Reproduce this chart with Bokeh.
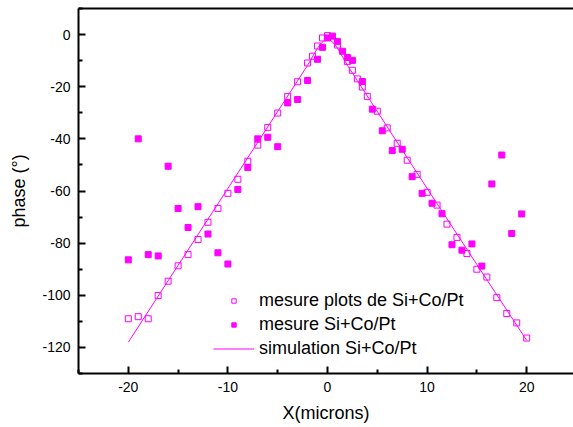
from bokeh.plotting import figure
from bokeh.models import Range1d, FixedTicker, Legend, LegendItem, LinearAxis
from bokeh.embed import file_html
from bokeh.resources import INLINE

# hollow squares: "mesure plots de Si+Co/Pt"
plots_x = [-20, -19, -18, -17, -16, -15, -14, -13, -12, -11, -10, -9, -8, -7, -6, -5, -4, -3,
           -2, -1.5, -1, -0.5, 0, 1, 2, 2.5, 3, 3.5, 4, 5, 6, 7, 8, 9, 10, 11, 12, 13, 14, 15,
           16, 17, 18, 19, 20]
plots_y = [-109, -108.2, -109, -100.1, -94.6, -88.7, -84.4, -78.6, -72, -66.7, -60.9, -55.5,
           -48.6, -42.4, -35.6, -30.1, -23.7, -18.1, -10.9, -8.3, -4.4, -1.3, -0.4, -4, -10.3,
           -13.7, -17, -20.1, -23.7, -29.4, -35.8, -41.7, -48.2, -53.6, -60.5, -65.4, -72.7,
           -77.8, -84, -90, -93, -100.9, -107, -110.6, -116.4]

# filled squares: "mesure Si+Co/Pt"
mes_x = [-20, -19, -18, -17, -16, -15, -14, -13, -12, -11, -10, -9, -8, -7, -6, -5, -4, -3,
         -2, -1, -0.5, 0, 0.5, 1, 1.5, 2, 2.5, 3.5, 4.5, 5.5, 6.5, 7.5, 8.5, 9.5, 10.5, 11.5,
         12.5, 13.5, 14.5, 15.5, 16.5, 17.5, 18.5, 19.5]
mes_y = [-86.4, -40, -84.4, -84.9, -50.5, -66.7, -74, -66, -76.5, -83.7, -88, -59.4, -51,
         -40, -39.4, -43, -26.2, -24.9, -17.6, -9.5, -4.9, -1.3, -0.6, -2.7, -6.4, -8.8, -9.9,
         -18, -28.6, -36.9, -44.5, -44, -54.5, -60.9, -64.7, -68.7, -80.6, -82.7, -80.3,
         -88.8, -57.3, -46.2, -76.3, -68.8]

# simulation line
sim_x = [-20, -15, -10, -5, -3, -2, -1, -0.5, 0, 0.5, 1, 2, 3, 5, 10, 15, 20]
sim_y = [-118, -88.5, -59, -29.5, -17.7, -11.8, -5.2, -2.8, -1.6, -2.8, -5.2, -11.8, -17.7,
         -29.5, -59, -88.2, -117.3]

x_major = [-20, -10, 0, 10, 20]
x_labels = ["-20", "-10", "0", "10", "20"]
x_minor = [-25, -15, -5, 5, 15]
y_major = [-120, -100, -80, -60, -40, -20, 0]
y_labels = ["-120", "-100", "-80", "-60", "-40", "-20", "0"]
y_minor = [-130, -110, -90, -70, -50, -30, -10, 10]

MAG = "#ff00ff"
FONT = "Liberation Sans"

p = figure(width=573, height=427, output_backend="svg", toolbar_location=None,
           x_range=Range1d(-25, 24.7), y_range=Range1d(-130, 10),
           min_border_left=78, min_border_right=0, min_border_top=8, min_border_bottom=54,
           x_axis_label="X(microns)", y_axis_label="phase (°)")
p.outline_line_color = None
p.grid.visible = False
p.background_fill_color = "white"
p.border_fill_color = "white"

r_line = p.line(sim_x, sim_y, line_color=MAG, line_width=1)
r_plots = p.scatter(plots_x, plots_y, marker="square", size=6, fill_color=None,
                    line_color=MAG, line_width=1)
r_mes = p.scatter(mes_x, mes_y, marker="square", size=6, fill_color=MAG, line_color=MAG)

p.xaxis.ticker = FixedTicker(ticks=x_major, minor_ticks=x_minor)
p.yaxis.ticker = FixedTicker(ticks=y_major, minor_ticks=y_minor)
p.xaxis.major_label_overrides = {t: s for t, s in zip(x_major, x_labels)}
p.yaxis.major_label_overrides = {t: s for t, s in zip(y_major, y_labels)}

for ax in (p.xaxis[0], p.yaxis[0]):
    ax.axis_line_width = 2
    ax.axis_line_color = "black"
    ax.major_tick_in = 7
    ax.major_tick_out = 0
    ax.minor_tick_in = 4
    ax.minor_tick_out = 0
    ax.major_tick_line_width = 2
    ax.minor_tick_line_width = 2
    ax.major_tick_line_color = "black"
    ax.minor_tick_line_color = "black"
    ax.major_label_text_font = FONT
    ax.major_label_text_font_size = "14px"
    ax.major_label_text_color = "black"
    ax.axis_label_text_font = FONT
    ax.axis_label_text_font_size = "18px"
    ax.axis_label_text_font_style = "normal"
    ax.axis_label_text_color = "black"

p.xaxis.major_label_standoff = 8
p.xaxis.axis_label_standoff = 8
p.yaxis.major_label_standoff = 8
p.yaxis.axis_label_standoff = 10

top_axis = LinearAxis(axis_line_width=2, axis_line_color="black",
                      major_tick_line_color=None, minor_tick_line_color=None,
                      major_tick_in=0, major_tick_out=0, minor_tick_in=0, minor_tick_out=0,
                      major_label_text_font_size="0px", major_label_standoff=0,
                      ticker=FixedTicker(ticks=[]))
p.add_layout(top_axis, "above")

legend = Legend(items=[
    LegendItem(label="mesure plots de Si+Co/Pt", renderers=[r_plots]),
    LegendItem(label="mesure Si+Co/Pt", renderers=[r_mes]),
    LegendItem(label="simulation Si+Co/Pt", renderers=[r_line]),
], location=(135, 14))
legend.border_line_color = None
legend.background_fill_alpha = 0
legend.padding = 0
legend.margin = 0
legend.glyph_width = 41
legend.glyph_height = 11
legend.label_height = 20
legend.spacing = 3
legend.label_standoff = 5
legend.label_text_font = FONT
legend.label_text_font_size = "18px"
legend.label_text_color = "black"
p.add_layout(legend)

open("out.html", "w").write(file_html(p, INLINE))
